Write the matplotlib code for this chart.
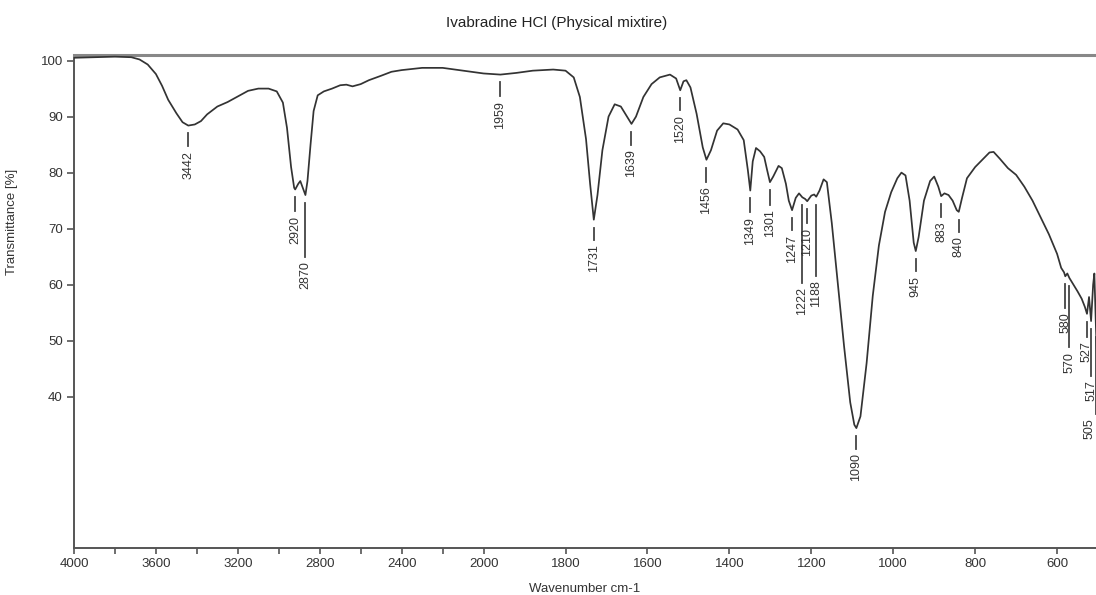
import numpy as np
import matplotlib
matplotlib.use("Agg")
import matplotlib.pyplot as plt

plt.rcParams['font.family'] = ['Liberation Sans', 'DejaVu Sans']

# spectrum: wavenumber (cm-1) and transmittance (%)
wavenumber = [4000, 3900, 3800, 3720, 3680, 3640, 3600, 3570, 3540, 3500,
              3470, 3442, 3410, 3380, 3350, 3300, 3250, 3200, 3150, 3100,
              3050, 3010, 2980, 2960, 2940, 2925, 2920, 2905, 2895, 2880,
              2870, 2860, 2845, 2830, 2810, 2780, 2740, 2700, 2670, 2640,
              2600, 2560, 2500, 2450, 2400, 2300, 2200, 2100, 2000, 1959,
              1920, 1880, 1830, 1800, 1780, 1765, 1750, 1740, 1731, 1722,
              1710, 1695, 1680, 1665, 1650, 1639, 1628, 1610, 1590, 1570,
              1545, 1530, 1520, 1512, 1505, 1495, 1480, 1465, 1456, 1445,
              1430, 1415, 1400, 1380, 1365, 1355, 1349, 1343, 1335, 1325,
              1315, 1308, 1301, 1293, 1280, 1272, 1262, 1255, 1247, 1238,
              1230, 1222, 1215, 1210, 1200, 1193, 1188, 1180, 1170, 1162,
              1150, 1135, 1120, 1105, 1095, 1090, 1080, 1065, 1050, 1035,
              1020, 1005, 990, 980, 970, 960, 950, 945, 938, 925,
              910, 900, 890, 883, 875, 865, 855, 845, 840, 832,
              820, 800, 780, 765, 755, 740, 720, 700, 680, 660,
              640, 620, 600, 590, 583, 580, 575, 570, 560, 550,
              540, 532, 527, 522, 517, 512, 509, 505, 500]
transmittance = [100.5, 100.6, 100.7, 100.6, 100.2, 99.3, 97.6, 95.5, 93.0, 90.6,
                 89.0, 88.4, 88.6, 89.2, 90.4, 91.8, 92.6, 93.6, 94.6, 95.0,
                 95.0, 94.5, 92.5, 88.0, 81.0, 77.3, 77.0, 78.0, 78.5, 77.0,
                 76.0, 78.5, 85.0, 91.0, 93.8, 94.5, 95.0, 95.6, 95.7, 95.4,
                 95.8, 96.5, 97.3, 98.0, 98.3, 98.7, 98.7, 98.2, 97.7, 97.5,
                 97.8, 98.2, 98.4, 98.2, 97.0, 93.5, 86.0, 78.0, 71.6, 76.0,
                 84.0, 90.0, 92.2, 91.8, 90.0, 88.7, 90.0, 93.5, 95.8, 97.0,
                 97.5, 96.8, 94.7, 96.3, 96.5, 95.2, 90.5, 84.5, 82.3, 84.0,
                 87.5, 88.8, 88.6, 87.7, 85.8, 80.5, 76.8, 82.0, 84.4, 83.8,
                 82.8, 80.5, 78.3, 79.3, 81.2, 80.8, 78.0, 75.0, 73.3, 75.5,
                 76.3, 75.6, 75.3, 74.9, 75.9, 76.1, 75.7, 76.8, 78.8, 78.3,
                 71.0, 60.0, 49.0, 39.0, 35.0, 34.4, 36.5, 46.0, 58.0, 67.0,
                 73.0, 76.5, 79.0, 80.0, 79.5, 75.0, 67.5, 66.0, 68.5, 75.0,
                 78.5, 79.3, 77.5, 75.8, 76.3, 76.0, 75.0, 73.3, 73.0, 75.5,
                 79.0, 81.0, 82.5, 83.6, 83.7, 82.5, 80.8, 79.6, 77.5, 75.0,
                 72.0, 69.0, 65.5, 63.0, 62.2, 61.5, 62.0, 61.2, 60.0, 58.8,
                 57.5, 56.0, 54.8, 57.8, 53.5, 60.0, 62.0, 52.0, 42.0]

# labelled peaks and how far each marker line drops (in % units)
peaks = [3442, 2920, 2870, 1959, 1731, 1639, 1520, 1456, 1349, 1301,
         1247, 1222, 1210, 1188, 1090, 945, 883, 840, 580, 570, 527, 517, 505]
drop = [2.3, 2.5, 9.6, 2.5, 2.2, 2.3, 2.2, 2.5, 2.5, 2.7,
        2.2, 13.9, 2.5, 12.7, 2.3, 2.2, 2.3, 2.2, 4.3, 11.0, 2.7, 8.4, 13.7]

x_major = [4000, 3600, 3200, 2800, 2400, 2000, 1800, 1600, 1400, 1200, 1000, 800, 600]
x_minor = [3800, 3400, 3000, 2600, 2200]
y_ticks = [40, 50, 60, 70, 80, 90, 100]


# OPUS style axis: above 2000 cm-1 the scale is compressed by half
def fwd(w):
    w = np.asarray(w, dtype=float)
    return np.where(w > 2000, 2000 + (w - 2000) / 2.0, w)


def inv(u):
    u = np.asarray(u, dtype=float)
    return np.where(u > 2000, 2000 + (u - 2000) * 2.0, u)


fig = plt.figure(figsize=(10.96, 5.95), dpi=100)
ax = fig.add_axes([0.0675, 0.079, 0.9325, 0.8286])
ax.set_xscale('function', functions=(fwd, inv))

line_col = '#333333'
ax.plot(wavenumber, transmittance, color=line_col, lw=1.25, zorder=3)

# peak markers
wn = np.array(wavenumber[::-1], dtype=float)
tr = np.array(transmittance[::-1], dtype=float)
for p, d in zip(peaks, drop):
    t = np.interp(p, wn, tr)
    top = t - 1.4
    bot = top - d
    ax.plot([p, p], [top, bot], color='#444444', lw=1.3, clip_on=False)
    # the last label sits on the right edge; keep it inside the figure
    ha = 'right' if p == peaks[-1] else 'center'
    ax.text(p, bot - 0.8, str(p), rotation=90, ha=ha, va='top',
            fontsize=9, color='#333333', clip_on=False)

ax.set_xlim(4000, 505)
ax.set_ylim(13, 101)
ax.set_xticks(x_major)
ax.set_xticks(x_minor, minor=True)
ax.set_xticklabels([str(v) for v in x_major])
ax.set_yticks(y_ticks)
ax.tick_params(axis='both', which='both', direction='out', length=4, width=1.2,
               color='#555555', labelsize=9.5, labelcolor='#333333', pad=3)
ax.tick_params(axis='y', length=5)

for side in ['left', 'bottom']:
    ax.spines[side].set_color('#555555')
    ax.spines[side].set_linewidth(1.4)
ax.spines['top'].set_color('#888888')
ax.spines['top'].set_linewidth(2.2)
ax.spines['right'].set_visible(False)

ax.set_xlabel('Wavenumber cm-1', fontsize=9.5, color='#333333', labelpad=2)
ax.set_ylabel('Transmittance [%]', fontsize=9.5, color='#333333')
ax.yaxis.set_label_coords(-0.055, 0.661)
ax.xaxis.set_label_coords(0.5, -0.072)

fig.text(0.508, 0.961, 'Ivabradine HCl (Physical mixtire)', ha='center', va='center',
         fontsize=11, color='#222222')

fig.savefig('out.png', dpi=100)
